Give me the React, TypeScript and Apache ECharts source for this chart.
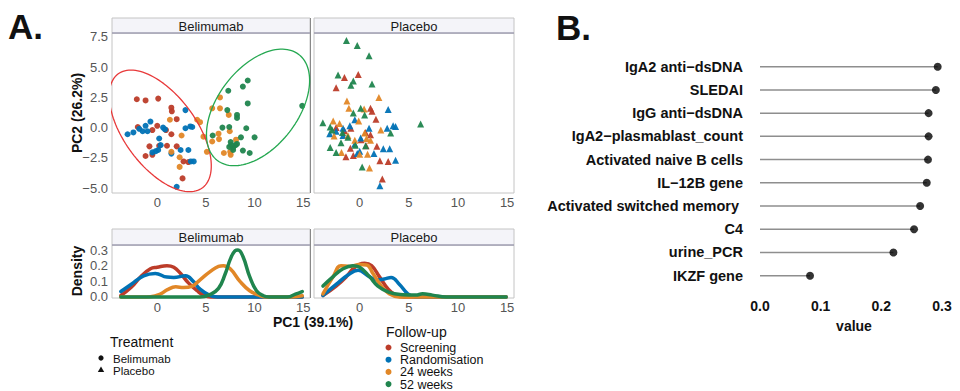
import React, { useEffect, useRef } from 'react';
import * as echarts from 'echarts';

const FONT = "'Liberation Sans', Arial, Helvetica, sans-serif";

const followUpNames = ['Screening', 'Randomisation', '24 weeks', '52 weeks'];
const followUpColors = ['#BC3C29', '#0072B5', '#E18727', '#20854E'];

// PCA scores, Belimumab arm (PC1, PC2)
const belScreening = [[-2.1,2.35],[-1.2,2.25],[0.1,2.4],[1.45,1.65],[1.5,1.35],[2.0,0.7],[-2.0,0.05],[0.0,0.15],[-0.5,-0.2],[0.9,-0.2],[1.45,-0.55],[-0.8,-1.55],[0.2,-1.5],[1.0,-1.5],[2.0,-1.55],[-1.2,-2.35],[-0.5,-2.25],[2.7,-2.8],[3.2,-2.85],[2.6,-4.2]];
const belRandomisation = [[-3.05,-0.55],[-2.45,-0.4],[-1.85,-0.1],[-1.5,-0.3],[-1.2,0.15],[-0.7,0.5],[-1.0,-0.3],[0.6,0.0],[0.8,-0.15],[2.9,1.45],[2.9,-0.05],[3.4,0.1],[3.6,0.05],[0.2,-0.9],[0.35,-1.45],[-0.5,-2.05],[-0.15,-1.95],[0.1,-1.85],[1.45,-2.15],[2.4,-1.85],[3.2,-1.85],[3.75,-2.8],[3.45,-2.8],[2.0,-4.9]];
const belWeek24 = [[1.3,0.65],[2.5,-0.65],[4.1,0.65],[4.75,-0.75],[5.1,-2.0],[1.45,-2.0],[2.3,-2.45],[2.3,-3.25],[5.65,1.6],[6.45,2.5],[6.45,1.6],[7.35,1.05],[5.65,-1.15],[6.3,-0.5],[6.35,-0.95],[6.85,-2.1],[7.5,-2.0],[7.55,-2.25],[7.45,-0.3],[8.1,-1.0],[4.4,0.45]];
const belWeek52 = [[7.3,3.05],[8.8,3.4],[9.3,3.9],[9.3,2.0],[14.9,1.8],[7.2,1.45],[8.2,1.05],[8.2,0.8],[6.7,0.0],[7.4,0.05],[9.15,-0.05],[10.0,-0.8],[5.7,-0.65],[8.6,-0.8],[7.55,-1.2],[8.05,-1.45],[7.8,-1.65],[7.6,-1.45],[8.2,-1.35],[7.8,-1.85],[8.8,-1.9],[9.5,-2.1],[7.4,-1.6]];

// PCA scores, Placebo arm
const plaScreening = [[-1.55,4.15],[-0.15,4.4],[-2.4,3.3],[1.1,1.6],[1.25,1.35],[1.65,0.7],[-2.4,0.0],[-0.9,-0.05],[-1.55,-0.25],[1.1,-0.6],[0.15,-1.0],[1.75,-1.55],[0.65,-1.5],[-0.95,-1.7],[-1.4,-2.4],[-0.65,-2.3],[2.05,-2.75],[2.9,-2.8],[2.3,-4.25],[0.6,-0.4]];
const plaRandomisation = [[2.9,1.5],[-0.5,0.65],[-1.0,0.15],[-1.7,-0.05],[0.95,-0.05],[2.8,-0.05],[3.4,0.15],[3.65,0.1],[-3.05,-0.5],[-1.7,-0.65],[0.1,-0.85],[-0.5,-1.35],[0.0,-1.95],[-0.25,-2.15],[1.45,-2.15],[2.4,-1.75],[3.05,-1.75],[3.65,-2.7],[2.05,-4.8],[-2.4,-0.3]];
const plaWeek24 = [[-1.3,2.2],[-1.1,1.6],[1.95,2.5],[0.45,1.55],[-2.7,0.55],[-2.05,0.35],[-0.1,0.55],[2.15,-0.2],[-2.6,-0.7],[-1.2,-0.65],[0.5,-0.45],[1.1,-1.05],[-1.85,-2.05],[0.0,-2.2],[0.8,-2.2],[1.0,-3.35],[-0.5,-1.05],[0.7,-0.9]];
const plaWeek52 = [[-1.35,7.2],[-0.25,6.8],[0.95,5.95],[-2.2,4.35],[-0.65,3.85],[-0.9,3.5],[1.25,3.6],[0.1,1.6],[0.5,1.05],[-0.65,1.2],[-3.75,0.4],[-3.0,0.05],[-1.75,-0.4],[-1.2,-0.8],[-1.9,-1.25],[-0.45,-1.45],[0.6,-1.5],[-3.0,-1.65],[-2.4,-2.05],[3.15,-0.45],[6.2,0.3],[0.25,-3.25],[-2.8,-0.2]];

// Density of PC1
const belDensScreening = [[-3.74,0.01],[-2.7,0.06],[-1.7,0.13],[-0.7,0.18],[0,0.19],[1.0,0.2],[1.7,0.19],[2.4,0.15],[3.2,0.09],[4.1,0.04],[4.8,0.01],[5.5,0],[8,0],[11,0],[14.9,0]];
const belDensRandomisation = [[-3.74,0.035],[-2.7,0.08],[-1.4,0.135],[-0.2,0.15],[1.0,0.127],[1.7,0.125],[2.9,0.135],[3.7,0.1],[4.4,0.05],[5.4,0.01],[6.2,0],[10,0],[14.9,0]];
const belDens24 = [[-3.74,0],[-1.5,0],[-0.7,0.002],[0.35,0.02],[1.0,0.045],[1.9,0.065],[2.7,0.06],[3.6,0.07],[4.4,0.11],[5.4,0.16],[6.3,0.195],[6.8,0.2],[7.5,0.18],[8.5,0.1],[9.5,0.04],[10.5,0.01],[11.3,0],[13.5,0],[14.9,0.008]];
const belDens52 = [[-3.74,0],[2,0],[4.4,0],[5.4,0.015],[6.3,0.055],[7.0,0.15],[7.5,0.24],[8.0,0.295],[8.3,0.3],[8.8,0.26],[9.5,0.13],[10.2,0.04],[10.9,0.008],[11.5,0],[13.4,0],[14.2,0.018],[14.9,0.035]];
const plaDensScreening = [[-3.74,0.01],[-2.4,0.07],[-1.35,0.13],[-0.5,0.19],[0.5,0.215],[1.2,0.2],[2.0,0.13],[2.9,0.05],[3.7,0.01],[4.5,0],[9,0],[14.9,0]];
const plaDensRandomisation = [[-3.74,0.01],[-2.4,0.08],[-1.2,0.14],[-0.17,0.17],[0.85,0.135],[1.7,0.11],[2.5,0.115],[3.2,0.125],[4.05,0.08],[4.9,0.02],[5.7,0],[10,0],[14.9,0]];
const plaDens24 = [[-3.74,0.02],[-2.7,0.13],[-1.9,0.2],[-1.0,0.195],[0,0.207],[0.7,0.205],[1.35,0.15],[2.2,0.07],[3.0,0.02],[4.0,0],[9,0],[14.9,0]];
const plaDens52 = [[-3.74,0.07],[-2.7,0.13],[-1.7,0.18],[-0.7,0.2],[0,0.19],[1.0,0.13],[1.85,0.07],[3.0,0.03],[4.4,0.015],[5.7,0.012],[6.4,0.02],[7.4,0.012],[8.8,0],[11,0],[14.9,0]];

// Confidence ellipses (centre and two conjugate semi-axis vectors, data units)
const redEllipse = { cx: 0.31, cy: -0.27, a: [4.35, -4.7], b: [-2.93, -1.8] };
const greenEllipse = { cx: 10.36, cy: 1.67, a: [4.21, 4.37], b: [3.22, -2.04] };

const pc1Ticks = [0, 5, 10, 15];
const pc2Ticks = [-5, -2.5, 0, 2.5, 5, 7.5];
const densityTicks = [0, 0.1, 0.2, 0.3];

// Panel B
const features = ['IgA2 anti\u2212dsDNA', 'SLEDAI', 'IgG anti\u2212dsDNA', 'IgA2\u2212plasmablast_count', 'Activated naive B cells', 'IL\u221212B gene', 'Activated switched memory ', 'C4', 'urine_PCR', 'IKZF gene'];
const importance = [0.293, 0.29, 0.278, 0.278, 0.277, 0.275, 0.264, 0.254, 0.22, 0.0825];
const importanceTicks = [0, 0.1, 0.2, 0.3];

function ellipsePoints(e: any) {
  const pts: number[][] = [];
  const n = 120;
  for (let i = 0; i <= n; i++) {
    const t = (i / n) * Math.PI * 2;
    pts.push([e.cx + Math.cos(t) * e.a[0] + Math.sin(t) * e.b[0], e.cy + Math.cos(t) * e.a[1] + Math.sin(t) * e.b[1]]);
  }
  return pts;
}

const fmtNum = (v: number, d: number) => (v < 0 ? '\u2212' + Math.abs(v).toFixed(d) : v.toFixed(d));

export default function App() {
  const ref = useRef<HTMLDivElement>(null);
  useEffect(() => {
    if (!ref.current) return;
    const chart = echarts.init(ref.current, null, { renderer: 'svg' });
    const tickColor = '#555555';
    const PX = { min: -4.65, max: 15.7 };
    const PY = { min: -5.41, max: 7.83 };
    const DY = { min: -0.0064, max: 0.332 };

    const xBase = (gi: number, show: boolean) => ({
      type: 'value', gridIndex: gi, min: PX.min, max: PX.max,
      axisLine: { show: false }, axisTick: { show: false }, splitLine: { show: false },
      axisLabel: { show, customValues: pc1Ticks, color: tickColor, fontSize: 13, margin: 3, fontFamily: FONT, formatter: (v: number) => String(v) },
    });
    const yBase = (gi: number, show: boolean, r: any, ticks: number[], d: number) => ({
      type: 'value', gridIndex: gi, min: r.min, max: r.max,
      axisLine: { show: false }, axisTick: { show: false }, splitLine: { show: false },
      axisLabel: { show, customValues: ticks, color: tickColor, fontSize: 13, margin: 4, fontFamily: FONT, formatter: (v: number) => fmtNum(v, d) },
    });

    const belGroups = [belScreening, belRandomisation, belWeek24, belWeek52];
    const plaGroups = [plaScreening, plaRandomisation, plaWeek24, plaWeek52];
    const belDens = [belDensScreening, belDensRandomisation, belDens24, belDens52];
    const plaDens = [plaDensScreening, plaDensRandomisation, plaDens24, plaDens52];

    const series: any[] = [];
    followUpNames.forEach((name, i) => {
      series.push({ type: 'scatter', name, xAxisIndex: 0, yAxisIndex: 0, data: belGroups[i], symbol: 'circle', symbolSize: 6, itemStyle: { color: followUpColors[i], opacity: 0.95 } });
    });
    followUpNames.forEach((name, i) => {
      series.push({ type: 'scatter', name, xAxisIndex: 1, yAxisIndex: 1, data: plaGroups[i], symbol: 'triangle', symbolSize: 7, itemStyle: { color: followUpColors[i], opacity: 0.95 } });
    });
    series.push({ type: 'line', name: 'ellipse1', xAxisIndex: 0, yAxisIndex: 0, data: ellipsePoints(redEllipse), showSymbol: false, clip: true, lineStyle: { color: '#E8393A', width: 1.3 }, z: 3 });
    series.push({ type: 'line', name: 'ellipse2', xAxisIndex: 0, yAxisIndex: 0, data: ellipsePoints(greenEllipse), showSymbol: false, clip: true, lineStyle: { color: '#25A851', width: 1.3 }, z: 3 });
    followUpNames.forEach((name, i) => {
      series.push({ type: 'line', name, xAxisIndex: 2, yAxisIndex: 2, data: belDens[i], showSymbol: false, smooth: 0.45, clip: true, lineStyle: { color: followUpColors[i], width: 3.5, cap: 'round', join: 'round' } });
    });
    followUpNames.forEach((name, i) => {
      series.push({ type: 'line', name, xAxisIndex: 3, yAxisIndex: 3, data: plaDens[i], showSymbol: false, smooth: 0.45, clip: true, lineStyle: { color: followUpColors[i], width: 3.5, cap: 'round', join: 'round' } });
    });
    series.push({ type: 'bar', name: 'segment', xAxisIndex: 4, yAxisIndex: 4, data: importance, barWidth: 1.5, itemStyle: { color: '#8E8E8E' } });
    series.push({ type: 'scatter', name: 'value', xAxisIndex: 4, yAxisIndex: 4, data: importance.map((v, i) => [v, features[i]]), symbol: 'circle', symbolSize: 8, itemStyle: { color: '#000000' }, z: 5 });

    const strip = (x: number, y: number, w: number, h: number, label: string) => [
      { type: 'rect', shape: { x, y, width: w, height: h }, style: { fill: '#F4F4F9', stroke: '#C4C4C4', lineWidth: 1 } },
      { type: 'line', shape: { x1: x, y1: y + h, x2: x + w, y2: y + h }, style: { stroke: '#8C8AA6', lineWidth: 1 } },
      { type: 'text', x: x + w / 2, y: y + h / 2 + 0.5, style: { text: label, fontSize: 13, fontFamily: FONT, fill: '#1A1A1A', align: 'center', verticalAlign: 'middle' } },
    ];
    const txt = (x: number, y: number, text: string, size: number, bold: boolean, extra: any = {}) => ({
      type: 'text', x, y, ...extra,
      style: { text, fontSize: size, lineHeight: size, fontWeight: bold ? 'bold' : 'normal', fontFamily: FONT, fill: '#111111', align: extra.align || 'left', verticalAlign: 'middle' },
    });

    const graphic: any[] = [
      txt(8, 26, 'A.', 35, true),
      txt(556, 27, 'B.', 35, true),
      ...strip(112, 18, 198, 15, 'Belimumab'),
      ...strip(314, 18, 200, 15, 'Placebo'),
      ...strip(112, 229, 198, 16, 'Belimumab'),
      ...strip(314, 229, 200, 16, 'Placebo'),
      { type: 'line', shape: { x1: 310.5, y1: 18, x2: 310.5, y2: 193 }, style: { stroke: '#888888', lineWidth: 1 } },
      { type: 'line', shape: { x1: 310.5, y1: 229, x2: 310.5, y2: 298 }, style: { stroke: '#888888', lineWidth: 1 } },
      { type: 'text', x: 77, y: 113, rotation: Math.PI / 2, style: { text: 'PC2 (26.2%)', fontSize: 14, fontWeight: 'bold', fontFamily: FONT, fill: '#111', align: 'center', verticalAlign: 'middle' } },
      { type: 'text', x: 77, y: 271, rotation: Math.PI / 2, style: { text: 'Density', fontSize: 14, fontWeight: 'bold', fontFamily: FONT, fill: '#111', align: 'center', verticalAlign: 'middle' } },
      txt(313, 322, 'PC1 (39.1%)', 14, true, { align: 'center' }),
      txt(110, 342, 'Treatment', 14, false),
      { type: 'circle', shape: { cx: 101, cy: 358, r: 2.6 }, style: { fill: '#111' } },
      txt(113, 359, 'Belimumab', 11.5, false),
      { type: 'polygon', shape: { points: [[101, 366.5], [104.2, 372], [97.8, 372]] }, style: { fill: '#111' } },
      txt(113, 371, 'Placebo', 11.5, false),
      txt(386, 332, 'Follow-up', 14, false),
    ];
    followUpNames.forEach((name, i) => {
      const y = 347.5 + i * 12.2;
      graphic.push({ type: 'circle', shape: { cx: 388.5, cy: y, r: 3 }, style: { fill: followUpColors[i] } });
      graphic.push(txt(400, y + 0.5, name, 12.5, false));
    });

    chart.setOption({
      animation: false,
      backgroundColor: '#ffffff',
      textStyle: { fontFamily: FONT },
      grid: [
        { left: 112, top: 33, width: 198, height: 160, show: true, borderColor: '#C4C4C4', borderWidth: 1, backgroundColor: 'transparent' },
        { left: 314, top: 33, width: 200, height: 160, show: true, borderColor: '#C4C4C4', borderWidth: 1, backgroundColor: 'transparent' },
        { left: 112, top: 245, width: 198, height: 53, show: true, borderColor: '#C4C4C4', borderWidth: 1, backgroundColor: 'transparent' },
        { left: 314, top: 245, width: 200, height: 53, show: true, borderColor: '#C4C4C4', borderWidth: 1, backgroundColor: 'transparent' },
        { left: 760, top: 55.1, width: 188, height: 232.2 },
      ],
      xAxis: [
        xBase(0, true), xBase(1, true), xBase(2, true), xBase(3, true),
        {
          type: 'value', gridIndex: 4, min: 0, max: 0.31,
          axisLine: { show: false }, axisTick: { show: false }, splitLine: { show: false },
          axisLabel: { customValues: importanceTicks, color: '#111', fontSize: 14, fontWeight: 'bold', margin: 12, fontFamily: FONT, formatter: (v: number) => v.toFixed(1) },
          name: 'value', nameLocation: 'middle', nameGap: 32, nameTextStyle: { color: '#111', fontSize: 14, fontWeight: 'bold', fontFamily: FONT },
        },
      ],
      yAxis: [
        yBase(0, true, PY, pc2Ticks, 1), yBase(1, false, PY, pc2Ticks, 1),
        yBase(2, true, DY, densityTicks, 1), yBase(3, false, DY, densityTicks, 1),
        {
          type: 'category', gridIndex: 4, data: features, inverse: true,
          axisLine: { show: false }, axisTick: { show: false }, splitLine: { show: false },
          axisLabel: { color: '#111', fontSize: 14.5, fontWeight: 'bold', margin: 17, fontFamily: FONT },
        },
      ],
      series,
      graphic,
    });
    return () => chart.dispose();
  }, []);
  return <div ref={ref} style={{ position: 'absolute', left: 0, top: 0, width: 960, height: 391 }} />;
}
